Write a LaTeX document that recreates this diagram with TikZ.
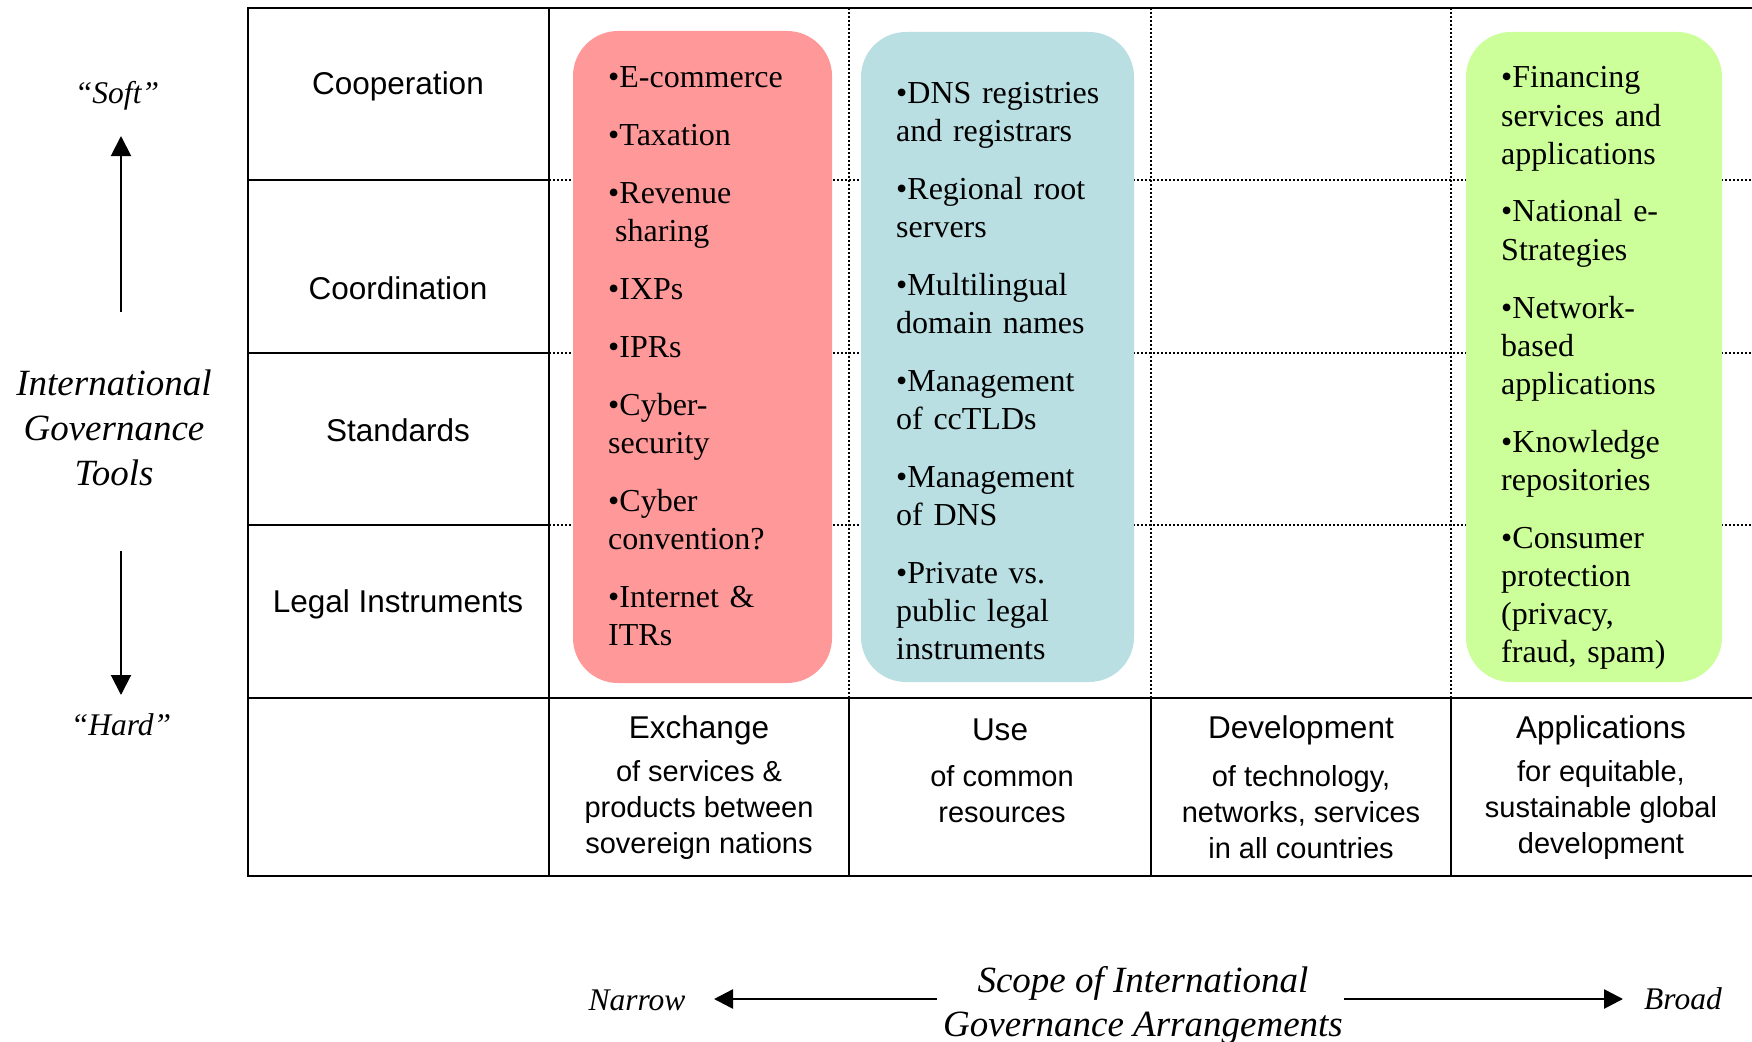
\documentclass[tikz,border=0pt]{standalone}
\usepackage{fontspec}
\setmainfont{Liberation Serif}
\newfontfamily\arialf{Liberation Sans}
\usetikzlibrary{arrows.meta}
\definecolor{redfill}{HTML}{FF9999}
\definecolor{bluefill}{HTML}{B9DFE3}
\definecolor{greenfill}{HTML}{CCFF99}
\newcommand\boxfnt{\fontsize{32}{38}\selectfont\setlength{\parskip}{20pt}}
\begin{document}
\begin{tikzpicture}[x=1pt,y=-1pt,
  solidline/.style={line width=2.4pt, line cap=rect},
  dotline/.style={line width=2pt, dash pattern=on 2pt off 2pt},
  colbox/.style={rectangle, rounded corners=45pt, draw=none, inner sep=0pt},
  itemtxt/.style={anchor=base west, inner sep=0pt, text width=235pt, align=left, font=\fontsize{32}{38}\selectfont},
  rowlbl/.style={inner sep=0pt, font=\arialf\fontsize{31.5}{36}\selectfont},
  colhead/.style={inner sep=0pt, font=\arialf\fontsize{31.5}{36}\selectfont},
  colsub/.style={inner sep=0pt, align=center, font=\arialf\fontsize{29}{36}\selectfont},
  itl/.style={inner sep=0pt, font=\itshape\fontsize{31.5}{36}\selectfont},
  itlbig/.style={inner sep=0pt, align=center, font=\itshape\fontsize{37}{45}\selectfont},
  itlscope/.style={inner sep=0pt, align=center, font=\itshape\fontsize{37}{44}\selectfont},
  vtarrow/.style={line width=2pt, -{Triangle[length=20pt,width=20pt]}},
  hzarrow/.style={line width=2.6pt, -{Triangle[length=19pt,width=19pt]}}
]
\useasboundingbox (0,0) rectangle (1752,1041);
\fill[white] (0,0) rectangle (1752,1041);

% ---- dotted grid in upper area
\draw[dotline] (549,180) -- (1752,180);
\draw[dotline] (549,353) -- (1752,353);
\draw[dotline] (549,525) -- (1752,525);
\draw[dotline] (849,8) -- (849,698);
\draw[dotline] (1151,8) -- (1151,698);
\draw[dotline] (1451,8) -- (1451,698);

% ---- solid grid
\draw[solidline] (248,8) -- (1752,8);
\draw[solidline] (248,698) -- (1752,698);
\draw[solidline] (248,876) -- (1752,876);
\draw[solidline] (248,8) -- (248,876);
\draw[solidline] (549,8) -- (549,876);
\draw[solidline] (248,180) -- (549,180);
\draw[solidline] (248,353) -- (549,353);
\draw[solidline] (248,525) -- (549,525);
\draw[solidline] (849,698) -- (849,876);
\draw[solidline] (1151,698) -- (1151,876);
\draw[solidline] (1451,698) -- (1451,876);

% ---- coloured boxes
\node[colbox, fill=redfill, minimum width=259pt, minimum height=652pt] (redbox) at (702.5,357) {};
\node[colbox, fill=bluefill, minimum width=273pt, minimum height=650pt] (bluebox) at (997.5,357) {};
\node[colbox, fill=greenfill, minimum width=256pt, minimum height=650pt] (greenbox) at (1594,357) {};

% ---- box texts
\node[itemtxt] (redtxt) at (608,87) {\boxfnt •E-commerce\par •Taxation\par •Revenue\\\hspace*{7pt}sharing\par •IXPs\par •IPRs\par •Cyber-\\security\par •Cyber\\convention?\par •Internet \&\\ITRs};
\node[itemtxt] (bluetxt) at (896,103) {\boxfnt •DNS registries\\and registrars\par •Regional root\\servers\par •Multilingual\\domain names\par •Management\\of ccTLDs\par •Management\\of DNS\par •Private vs.\\public legal\\instruments};
\node[itemtxt, text width=215pt] (greentxt) at (1501,88) {\boxfnt •Financing\\services and\\applications\par •National e-\\Strategies\par •Network-\\based\\applications\par •Knowledge\\repositories\par •Consumer\\protection\\(privacy,\\fraud, spam)};

% ---- row labels
\node[rowlbl] (coop) at (398,86) {Cooperation};
\node[rowlbl] (coord) at (398,288) {Coordination};
\node[rowlbl] (stand) at (398,430) {Standards};
\node[rowlbl] (legal) at (398,604) {Legal Instruments};

% ---- column headers
\node[colhead] (h1) at (699,730) {Exchange};
\node[colsub] (s1) at (699,810) {of services \&\\products between\\sovereign nations};
\node[colhead] (h2) at (1000,730) {Use};
\node[colsub] (s2) at (1002,794) {of common\\resources};
\node[colhead] (h3) at (1301,730) {Development};
\node[colsub] (s3) at (1301,812) {of technology,\\networks, services\\in all countries};
\node[colhead] (h4) at (1601,730) {Applications};
\node[colsub] (s4) at (1601,810) {for equitable,\\sustainable global\\development};

% ---- left axis
\node[itl] (soft) at (117,96) {“Soft”};
\node[itl] (hard) at (121,725) {“Hard”};
\node[itlbig] (igt) at (114,428) {International\\Governance\\Tools};
\coordinate (upBase) at (121,312);
\coordinate (upTip) at (121,136);
\coordinate (dnBase) at (121,551);
\coordinate (dnTip) at (121,695);
\draw[vtarrow] (upBase) -- (upTip);
\draw[vtarrow] (dnBase) -- (dnTip);

% ---- bottom axis
\node[itl] (narrow) at (637,1000) {Narrow};
\node[itl] (broad) at (1683,999) {Broad};
\node[itlscope] (scope) at (1143,1005) {Scope of International\\Governance Arrangements};
\coordinate (nBase) at (937,999);
\coordinate (nTip) at (714,999);
\coordinate (bBase) at (1344,999);
\coordinate (bTip) at (1623,999);
\draw[hzarrow] (nBase) -- (nTip);
\draw[hzarrow] (bBase) -- (bTip);
\end{tikzpicture}
\end{document}
